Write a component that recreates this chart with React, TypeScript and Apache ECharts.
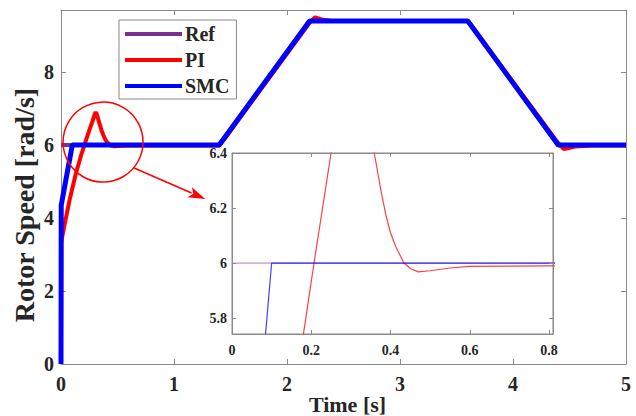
import React, { useEffect, useRef } from "react";
import * as echarts from "echarts";

// Reference speed profile
const timeRef = [0, 1.4, 2.2, 3.6, 4.4, 5];
const speedRef = [6, 6, 9.4, 9.4, 6, 6];

// SMC response
const timeSmc = [0, 0.002, 0.1, 1.4, 2.2, 3.6, 4.4, 5];
const speedSmc = [0, 4.35, 6, 6, 9.4, 9.4, 6, 6];

// PI response
const timePi = [
  0, 0.002, 0.04, 0.08, 0.13, 0.18, 0.207, 0.25, 0.28, 0.3, 0.307, 0.315, 0.335,
  0.359, 0.375, 0.389, 0.4, 0.413, 0.434, 0.45, 0.47, 0.5, 0.55, 0.6, 0.8, 1.4,
  1.45, 2.2, 2.25, 2.32, 2.4, 3.6, 3.65, 4.4, 4.45, 4.55, 4.7, 5,
];
const speedPi = [
  0, 3.35, 3.95, 4.55, 5.2, 5.74, 6.0, 6.4, 6.66, 6.86, 6.9, 6.86, 6.65,
  6.4, 6.27, 6.17, 6.11, 6.06, 6.0, 5.98, 5.968, 5.972, 5.982, 5.988, 5.99, 5.99,
  6.18, 9.35, 9.5, 9.43, 9.4, 9.4, 9.2, 6.05, 5.89, 5.96, 5.99, 5.99,
];

const seriesNames = ["Ref", "PI", "SMC"];
const mainXTicks = [0, 1, 2, 3, 4, 5];
const mainYTicks = [0, 2, 4, 6, 8];
const insetXTicks = [0, 0.2, 0.4, 0.6, 0.8];
const insetYTicks = [5.8, 6, 6.2, 6.4];

const FONT = "'Liberation Serif', 'Times New Roman', serif";
const AXIS_GRAY = "#8a8a8a";
const TEXT = "#262626";
const COLORS: Record<string, string> = { Ref: "#7E2F8E", PI: "#FF0000", SMC: "#0000FF" };

function pairs(t: number[], v: number[]) {
  return t.map((x, i) => [x, v[i]]);
}

export default function App() {
  const ref = useRef<HTMLDivElement>(null);

  useEffect(() => {
    if (!ref.current) return;
    const chart = echarts.init(ref.current, undefined, { renderer: "svg" });

    const tickLabel = (size: number) => ({
      fontFamily: FONT,
      fontWeight: "bold" as const,
      fontSize: size,
      color: TEXT,
    });
    const line = { show: true, lineStyle: { color: AXIS_GRAY, width: 1 } };

    const mkAxis = (grid: number, pos: string, ticks: number[], min: number, max: number, labels: boolean, size: number, tickLen: number, margin: number, extra: any = {}) => ({
      type: "value",
      gridIndex: grid,
      position: pos,
      min,
      max,
      axisLine: { ...line, onZero: false },
      axisTick: { show: true, inside: true, length: tickLen, lineStyle: { color: AXIS_GRAY }, customValues: ticks },
      axisLabel: { show: labels, customValues: ticks, hideOverlap: false, ...tickLabel(size), margin },
      splitLine: { show: false },
      ...extra,
    });

    const mainSeries = [
      { name: "Ref", t: timeRef, v: speedRef, w: 4 },
      { name: "PI", t: timePi, v: speedPi, w: 4 },
      { name: "SMC", t: timeSmc, v: speedSmc, w: 5 },
    ].map((s) => ({
      type: "line",
      name: s.name,
      xAxisIndex: 0,
      yAxisIndex: 0,
      data: pairs(s.t, s.v),
      showSymbol: false,
      symbol: "none",
      z: 2,
      lineStyle: { color: COLORS[s.name], width: s.w },
      itemStyle: { color: COLORS[s.name] },
    }));

    const insetSeries = [
      { name: "Ref", t: timeRef, v: speedRef, o: 0.5 },
      { name: "PI", t: timePi, v: speedPi, o: 0.75 },
      { name: "SMC", t: timeSmc, v: speedSmc, o: 0.75 },
    ].map((s) => ({
      type: "line",
      name: s.name,
      xAxisIndex: 2,
      yAxisIndex: 2,
      data: pairs(s.t, s.v),
      showSymbol: false,
      symbol: "none",
      clip: true,
      z: 11,
      lineStyle: { color: COLORS[s.name], width: 1.2, opacity: s.o },
      itemStyle: { color: COLORS[s.name] },
    }));

    chart.setOption({
      animation: false,
      backgroundColor: "#fff",
      grid: [
        { left: 61, top: 10, width: 565, height: 354, show: false, outerBoundsMode: "none", containLabel: false },
        { left: 232, top: 153, width: 321, height: 181, show: true, backgroundColor: "#fff", borderColor: AXIS_GRAY, borderWidth: 1, z: 10, outerBoundsMode: "none", containLabel: false },
      ],
      legend: {
        data: seriesNames.map((n) => ({ name: n, icon: "rect", itemStyle: { color: COLORS[n] } })),
        orient: "vertical",
        left: 119,
        top: 20,
        itemWidth: 57,
        itemHeight: 4,
        itemGap: 6,
        padding: [4, 7, 3, 6],
        borderColor: AXIS_GRAY,
        borderWidth: 1,
        backgroundColor: "#fff",
        selectedMode: false,
        textStyle: { fontFamily: FONT, fontWeight: "bold", fontSize: 20, color: TEXT, lineHeight: 20, padding: [0, 0, 0, -2] },
      },
      xAxis: [
        mkAxis(0, "bottom", mainXTicks, 0, 5, true, 20, 5, 10, {
          name: "Time [s]",
          nameLocation: "middle",
          nameGap: 29,
          nameMoveOverlap: false,
          nameTextStyle: { fontFamily: FONT, fontWeight: "bold", fontSize: 22, lineHeight: 22, color: TEXT, padding: [0, 0, 0, 8] },
        }),
        mkAxis(0, "top", mainXTicks, 0, 5, false, 20, 5, 10),
        mkAxis(1, "bottom", insetXTicks, 0, 0.81, true, 14, 4, 9, { z: 12 }),
        mkAxis(1, "top", insetXTicks, 0, 0.81, false, 14, 4, 9, { z: 12 }),
      ],
      yAxis: [
        mkAxis(0, "left", mainYTicks, 0, 9.7, true, 20, 5, 7, {
          name: "Rotor Speed [rad/s]",
          nameLocation: "middle",
          nameGap: 23,
          nameMoveOverlap: false,
          nameTextStyle: { fontFamily: FONT, fontWeight: "bold", fontSize: 28, color: TEXT, padding: [0, 36, 0, 0] },
        }),
        mkAxis(0, "right", mainYTicks, 0, 9.7, false, 20, 5, 7),
        mkAxis(1, "left", insetYTicks, 5.742, 6.4, true, 14, 4, 5, { z: 12 }),
        mkAxis(1, "right", insetYTicks, 5.742, 6.4, false, 14, 4, 5, { z: 12 }),
      ],
      series: [...mainSeries, ...insetSeries],
    });

    // Zoom annotation: circle around the PI overshoot and arrow to the inset
    const c = chart.convertToPixel({ gridIndex: 0 }, [0.372, 6.08]) as number[];
    const p1 = chart.convertToPixel({ gridIndex: 0 }, [0.647, 5.37]) as number[];
    const p2 = chart.convertToPixel({ gridIndex: 0 }, [1.277, 4.52]) as number[];
    const dx = p2[0] - p1[0];
    const dy = p2[1] - p1[1];
    const len = Math.hypot(dx, dy);
    const ux = dx / len;
    const uy = dy / len;
    const headL = 17;
    const headW = 5.5;
    const bx = p2[0] - ux * headL;
    const by = p2[1] - uy * headL;
    chart.setOption({
      graphic: [
        { type: "circle", shape: { cx: c[0], cy: c[1], r: 40 }, style: { fill: "none", stroke: "#FF0000", lineWidth: 1.5 }, z: 20 },
        { type: "line", shape: { x1: p1[0], y1: p1[1], x2: bx + ux * 2, y2: by + uy * 2 }, style: { stroke: "#FF0000", lineWidth: 1.5 }, z: 20 },
        {
          type: "polygon",
          shape: { points: [[p2[0], p2[1]], [bx - uy * headW, by + ux * headW], [bx + ux * 4, by + uy * 4], [bx + uy * headW, by - ux * headW]] },
          style: { fill: "#FF0000" },
          z: 20,
        },
      ],
    });

    return () => chart.dispose();
  }, []);

  return <div ref={ref} style={{ position: "fixed", left: 0, top: 0, width: 636, height: 416 }} />;
}
